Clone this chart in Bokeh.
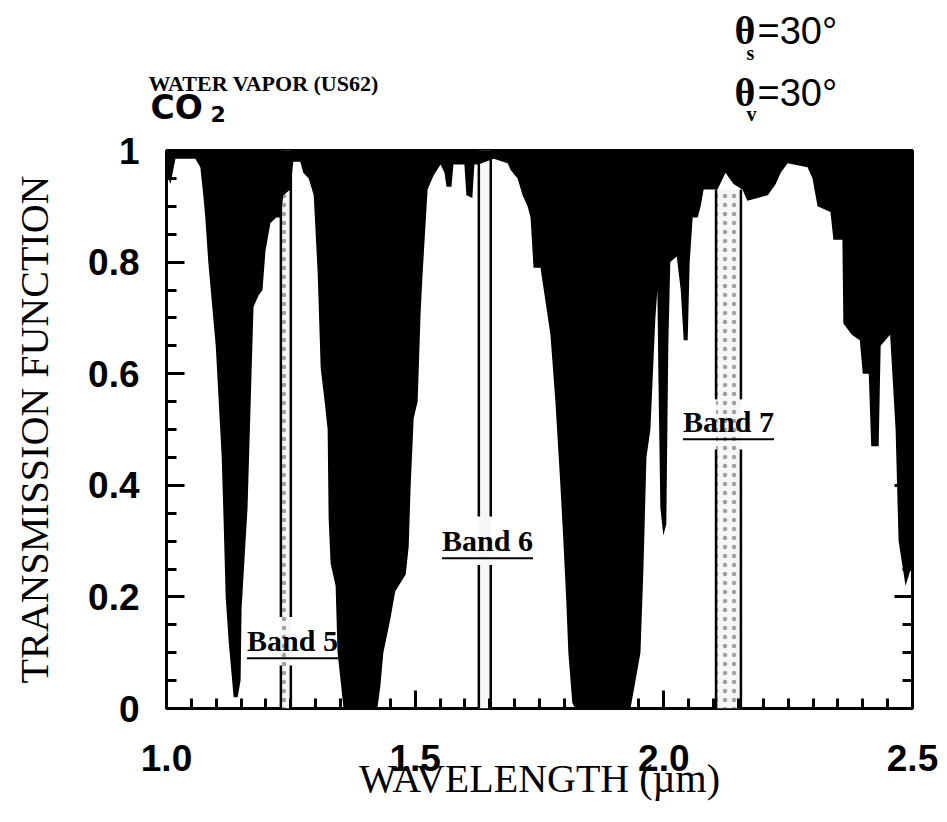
import numpy as np
from bokeh.plotting import figure
from bokeh.layouts import column
from bokeh.models import Range1d, FixedTicker, LinearAxis, ColumnDataSource
from bokeh.core.properties import value
from bokeh.embed import file_html
from bokeh.resources import INLINE

# ---- data -----------------------------------------------------------------
wavelength = [1.000, 1.008, 1.018, 1.058, 1.068, 1.074, 1.078, 1.084, 1.092, 1.099,
              1.105, 1.111, 1.115, 1.119, 1.125, 1.131, 1.135, 1.143, 1.149, 1.151,
              1.157, 1.163, 1.167, 1.171, 1.175, 1.185, 1.193, 1.199, 1.209, 1.221,
              1.229, 1.235, 1.249, 1.255, 1.269, 1.275, 1.286, 1.296, 1.300, 1.304,
              1.310, 1.318, 1.324, 1.326, 1.330, 1.340, 1.344, 1.350, 1.356, 1.424,
              1.430, 1.436, 1.450, 1.460, 1.481, 1.487, 1.491, 1.497, 1.505, 1.511,
              1.515, 1.525, 1.537, 1.551, 1.559, 1.563, 1.573, 1.577, 1.599, 1.603,
              1.615, 1.619, 1.627, 1.658, 1.686, 1.692, 1.706, 1.716, 1.726, 1.732,
              1.738, 1.752, 1.762, 1.772, 1.782, 1.792, 1.798, 1.804, 1.808, 1.816,
              1.822, 1.933, 1.937, 1.953, 1.959, 1.965, 1.973, 1.983, 1.987, 1.989,
              1.993, 1.999, 2.005, 2.009, 2.013, 2.026, 2.034, 2.040, 2.048, 2.052,
              2.058, 2.068, 2.074, 2.080, 2.095, 2.108, 2.124, 2.140, 2.158, 2.168,
              2.209, 2.225, 2.235, 2.249, 2.289, 2.299, 2.309, 2.335, 2.341, 2.359,
              2.361, 2.378, 2.394, 2.400, 2.412, 2.417, 2.432, 2.436, 2.455, 2.466,
              2.472, 2.486, 2.500]
transmission_min = [0.96, 0.94, 0.985, 0.985, 0.97, 0.92, 0.88, 0.80, 0.72, 0.65,
                    0.55, 0.45, 0.33, 0.20, 0.12, 0.06, 0.02, 0.02, 0.05, 0.18,
                    0.27, 0.36, 0.48, 0.60, 0.72, 0.74, 0.75, 0.82, 0.87, 0.88,
                    0.88, 0.92, 0.93, 0.98, 0.98, 0.96, 0.95, 0.92, 0.85, 0.78,
                    0.61, 0.55, 0.50, 0.34, 0.26, 0.22, 0.10, 0.05, 0.00, 0.00,
                    0.04, 0.10, 0.16, 0.21, 0.24, 0.29, 0.40, 0.52, 0.55, 0.71,
                    0.78, 0.93, 0.955, 0.975, 0.96, 0.935, 0.935, 0.975, 0.975, 0.92,
                    0.915, 0.975, 0.975, 0.985, 0.977, 0.965, 0.95, 0.92, 0.90, 0.88,
                    0.79, 0.79, 0.73, 0.67, 0.55, 0.40, 0.30, 0.19, 0.10, 0.01,
                    0.00, 0.00, 0.02, 0.10, 0.25, 0.45, 0.50, 0.70, 0.75, 0.60,
                    0.36, 0.31, 0.33, 0.65, 0.80, 0.81, 0.75, 0.66, 0.66, 0.80,
                    0.88, 0.88, 0.90, 0.93, 0.93, 0.93, 0.96, 0.94, 0.93, 0.91,
                    0.92, 0.94, 0.96, 0.977, 0.97, 0.95, 0.90, 0.89, 0.84, 0.84,
                    0.69, 0.67, 0.66, 0.60, 0.60, 0.47, 0.47, 0.65, 0.67, 0.50,
                    0.30, 0.22, 0.26]

band_names = ["Band 5", "Band 6", "Band 7"]
band_lo = [1.230, 1.628, 2.105]
band_hi = [1.250, 1.652, 2.155]
band_top = [1.0, 1.0, 0.93]
band_gap_lo = [0.077, 0.257, 0.464]
band_gap_hi = [0.164, 0.344, 0.554]
band_label_x = [1.2534, 1.6455, 2.130]
band_label_y = [0.1025, 0.282, 0.495]
band_hatch = [".", " ", "."]

x_ticks = [1.0, 1.5, 2.0, 2.5]
x_tick_labels = ["1.0", "1.5", "2.0", "2.5"]
y_ticks = [0.0, 0.2, 0.4, 0.6, 0.8, 1.0]
y_tick_labels = ["0", "0.2", "0.4", "0.6", "0.8", "1"]

W = 947
HEADER_H = 128
MAIN_H = 822 - HEADER_H
BASE_SHIFT = 0.37   # em: text glyphs sit this much below the requested baseline

# ---- header (texts above the plot) -----------------------------------------
hd = figure(width=W, height=HEADER_H, output_backend="svg", toolbar_location=None,
            x_axis_location=None, y_axis_location=None, min_border=0)
if "frame_align" in hd.properties():
    hd.frame_align = False
    hd.x_range = Range1d(0, W)
else:
    hd.x_range = Range1d(166, 912)
hd.y_range = Range1d(HEADER_H, 0)
hd.grid.visible = False
hd.outline_line_color = None
hd.background_fill_color = "white"
hd.border_fill_color = "white"

def htext(x, y, txt, font, size, style="bold"):
    hd.text(x=[x], y=[y - BASE_SHIFT * size], text=[txt], text_font=value(font),
            text_font_style=style, text_font_size=f"{size}px", text_color="black",
            text_align="left", text_baseline="alphabetic")

htext(148, 91, "WATER VAPOR (US62)", "Liberation Serif", 22)
htext(150, 119, "CO", "DejaVu Sans", 33)
htext(210, 122, "2", "DejaVu Sans", 22)
htext(734, 45, "θ", "Liberation Serif", 40)
htext(746, 60, "s", "Liberation Serif", 20)
htext(757, 45, "=30°", "Liberation Sans", 38, "normal")
htext(734, 107, "θ", "Liberation Serif", 40)
htext(746, 121, "v", "Liberation Serif", 20)
htext(757, 107, "=30°", "Liberation Sans", 38, "normal")

# ---- main figure -----------------------------------------------------------
p = figure(width=W, height=MAIN_H, output_backend="svg", toolbar_location=None,
           x_range=Range1d(1.0, 2.5), y_range=Range1d(0.0, 1.0),
           min_border_left=166, min_border_right=35, min_border_top=22,
           min_border_bottom=114)
p.grid.visible = False
p.outline_line_color = "black"
p.outline_line_width = 3
p.background_fill_color = "white"
p.border_fill_color = "white"

x_minor = list(np.round(np.arange(1.0, 2.5001, 0.05), 3))
y_minor = list(np.round(np.arange(0.0, 1.0001, 0.05), 3))

def style_axis(ax, ticks, minor, labels, show_labels):
    ax.ticker = FixedTicker(ticks=ticks, minor_ticks=minor)
    ax.major_tick_in = 18
    ax.major_tick_out = 0
    ax.minor_tick_in = 10
    ax.minor_tick_out = 0
    ax.major_tick_line_width = 3
    ax.minor_tick_line_width = 3
    ax.major_tick_line_color = "black"
    ax.minor_tick_line_color = "black"
    ax.axis_line_color = None
    if show_labels:
        ax.major_label_overrides = {t: l for t, l in zip(ticks, labels)}
        ax.major_label_text_font = "Liberation Sans"
        ax.major_label_text_font_style = "bold"
        ax.major_label_text_font_size = "37px"
        ax.major_label_text_color = "black"
    else:
        ax.major_label_overrides = {t: "" for t in ticks}
        ax.major_label_text_color = None
        ax.major_label_standoff = 0

xa = p.xaxis[0]
ya = p.yaxis[0]
style_axis(xa, x_ticks, x_minor, x_tick_labels, True)
style_axis(ya, y_ticks, y_minor, y_tick_labels, True)
xa.major_label_standoff = 36
ya.major_label_standoff = 27
xa.axis_label = "WAVELENGTH (µm)"
ya.axis_label = "TRANSMISSION FUNCTION"
for ax in (xa, ya):
    ax.axis_label_text_font = "Liberation Serif"
    ax.axis_label_text_font_style = "normal"
    ax.axis_label_text_font_size = "40px"
    ax.axis_label_text_color = "black"
xa.axis_label_standoff = -18
ya.axis_label_standoff = 28

ra = LinearAxis()
style_axis(ra, y_ticks, y_minor, y_tick_labels, False)
p.add_layout(ra, "right")

# ---- bands (speckled interiors) -------------------------------------------
band_src = ColumnDataSource(dict(lo=band_lo, hi=band_hi, top=band_top,
                                 bottom=[0.0] * 3, hatch=band_hatch))
p.quad(left="lo", right="hi", top="top", bottom="bottom", source=band_src,
       fill_color="#f7f7f7", line_color=None, hatch_pattern="hatch",
       hatch_color="black", hatch_alpha=0.35, hatch_scale=9, hatch_weight=1.5)

# ---- spectrum (black between lower envelope and 1) -------------------------
spec = ColumnDataSource(dict(x=wavelength, y1=transmission_min,
                             y2=[1.0] * len(wavelength)))
p.varea(x="x", y1="y1", y2="y2", source=spec, fill_color="black")

# ---- band edge lines, broken where the label sits --------------------------
edges_x = band_lo + band_hi
seg = ColumnDataSource(dict(
    x=edges_x + edges_x,
    y0=[0.0] * 6 + band_gap_hi * 2,
    y1=band_gap_lo * 2 + band_top * 2))
p.segment(x0="x", x1="x", y0="y0", y1="y1", source=seg,
          line_color="black", line_width=2.5)

# band labels with underline
px_per_y = 556.0
half_w = 45.5 / 497.3
ul = [y - 7 / px_per_y for y in band_label_y]
p.segment(x0=[x - half_w for x in band_label_x], x1=[x + half_w for x in band_label_x],
          y0=ul, y1=ul, line_color="black", line_width=2)
p.text(x=band_label_x, y=[y + BASE_SHIFT * 30 / px_per_y for y in band_label_y],
       text=band_names, text_align="center",
       text_baseline="alphabetic", text_font=value("Liberation Serif"),
       text_font_style="bold", text_font_size="30px", text_color="black")

layout = column(hd, p, spacing=0)
open("out.html", "w").write(file_html(layout, INLINE))
